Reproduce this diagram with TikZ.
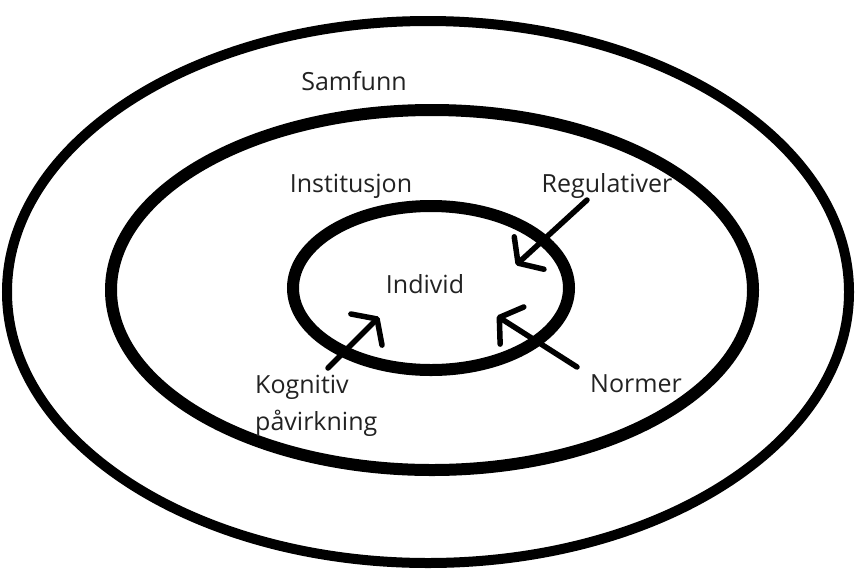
\documentclass[tikz,border=0pt]{standalone}
\usepackage{fontspec}
\setmainfont{Open Sans}
\usetikzlibrary{arrows.meta}
\definecolor{txt}{HTML}{222222}
\begin{document}
\begin{tikzpicture}[x=1pt,y=-1pt,
  ring/.style={draw=black},
  lbl/.style={text=txt,font=\fontsize{25}{37}\selectfont,inner sep=0pt},
  influence/.style={draw=black,line width=5.5pt,line cap=round,
    -{Straight Barb[length=15pt,width=44pt,line cap=round,line join=round]}}]
\useasboundingbox (0,0) rectangle (856,574);
\draw[ring,line width=10pt] (428,292) ellipse [x radius=421,y radius=271];
\draw[ring,line width=12pt] (432,290) ellipse [x radius=321,y radius=180];
\draw[ring,line width=12pt] (431,288) ellipse [x radius=138,y radius=82];
\node[lbl] (samfunn) at (354,81) {Samfunn};
\node[lbl] (inst) at (351,186) {Institusjon};
\node[lbl] (reg) at (607,186) {Regulativer};
\node[lbl] (ind) at (425,284) {Individ};
\node[lbl,align=left,anchor=north west] (kog) at (255,375) {Kognitiv\\påvirkning};
\node[lbl] (norm) at (636,384) {Normer};
\coordinate (regS) at (587,200);
\coordinate (regT) at (516,265);
\coordinate (kogS) at (328,368);
\coordinate (kogT) at (379,317);
\coordinate (normS) at (577,367);
\coordinate (normT) at (497,316);
\draw[influence] (regS) -- (regT);
\draw[influence] (kogS) -- (kogT);
\draw[influence] (normS) -- (normT);
\end{tikzpicture}
\end{document}
